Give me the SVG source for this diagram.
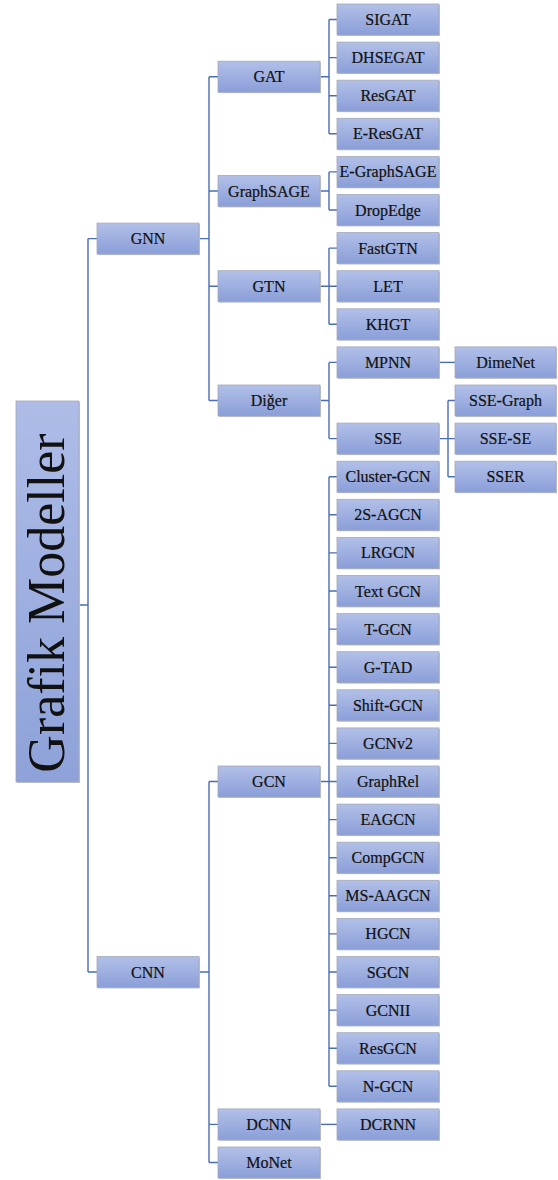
<svg xmlns="http://www.w3.org/2000/svg" width="558" height="1180" viewBox="0 0 558 1180">
<defs>
<linearGradient id="g" x1="0" y1="0" x2="0" y2="1">
<stop offset="0" stop-color="#b2c0e8"/>
<stop offset="1" stop-color="#8a9ed8"/>
</linearGradient>
<linearGradient id="gr" x1="0" y1="0" x2="0" y2="1">
<stop offset="0" stop-color="#aebce7"/>
<stop offset="1" stop-color="#8ea2d9"/>
</linearGradient>
</defs>
<style>
.b{fill:url(#g);stroke:#a3a9b8;stroke-width:0.8}
.s{fill:#c4c7cf}
text{font-family:"Liberation Serif","Times New Roman",serif}
.t{font-size:16px;fill:#111;stroke:#111;stroke-width:0.2;text-anchor:middle}
.c{fill:none;stroke:#4a6db3;stroke-width:1.4}
.rt{font-size:52px;fill:#111;text-anchor:middle}
</style>
<g id="connectors">
<path class="c" d="M79,605H88M88,238.6V972M88,238.6H97M88,972H97"/>
<path class="c" d="M199,238.6H209M209,76.7V400.5M209,76.7H218M209,191H218M209,286.2H218M209,400.5H218"/>
<path class="c" d="M320,76.7H329M329,19.5V133.8M329,19.5H337M329,57.6H337M329,95.7H337M329,133.8H337"/>
<path class="c" d="M320,191H329M329,171.9V210M329,171.9H337M329,210H337"/>
<path class="c" d="M320,286.2H329M329,248.1V324.3M329,248.1H337M329,286.2H337M329,324.3H337"/>
<path class="c" d="M320,400.5H329M329,362.4V438.6M329,362.4H337M329,438.6H337"/>
<path class="c" d="M439,362.4H455"/>
<path class="c" d="M439,438.6H448M448,400.5V476.7M448,400.5H455M448,438.6H455M448,476.7H455"/>
<path class="c" d="M199,972H209M209,781.5V1162.5M209,781.5H218M209,1124.4H218M209,1162.5H218"/>
<path class="c" d="M320,781.5H329M329,476.7V1086.3M329,476.7H337M329,514.8H337M329,552.9H337M329,591H337M329,629.1H337M329,667.2H337M329,705.3H337M329,743.4H337M329,781.5H337M329,819.6H337M329,857.7H337M329,895.8H337M329,933.9H337M329,972H337M329,1010.1H337M329,1048.2H337M329,1086.3H337"/>
<path class="c" d="M320,1124.4H337"/>
</g>
<g id="root">
<rect x="17" y="402" width="63" height="381" class="s"/>
<rect x="16" y="401" width="63" height="381" fill="url(#gr)" stroke="#a3a9b8" stroke-width="0.8"/>
<text class="rt" transform="translate(64,603) rotate(-90)">Grafik Modeller</text>
</g>
<g id="n-GNN"><rect x="98" y="224.1" width="102" height="31" class="s"/><rect x="97" y="223.1" width="102" height="31" class="b"/><text class="t" x="148" y="244.1">GNN</text></g>
<g id="n-CNN"><rect x="98" y="957.5" width="102" height="31" class="s"/><rect x="97" y="956.5" width="102" height="31" class="b"/><text class="t" x="148" y="977.5">CNN</text></g>
<g id="n-GAT"><rect x="219" y="62.2" width="102" height="31" class="s"/><rect x="218" y="61.2" width="102" height="31" class="b"/><text class="t" x="269" y="82.2">GAT</text></g>
<g id="n-GraphSAGE"><rect x="219" y="176.5" width="102" height="31" class="s"/><rect x="218" y="175.5" width="102" height="31" class="b"/><text class="t" x="269" y="196.5">GraphSAGE</text></g>
<g id="n-GTN"><rect x="219" y="271.7" width="102" height="31" class="s"/><rect x="218" y="270.7" width="102" height="31" class="b"/><text class="t" x="269" y="291.7">GTN</text></g>
<g id="n-Diger"><rect x="219" y="386" width="102" height="31" class="s"/><rect x="218" y="385" width="102" height="31" class="b"/><text class="t" x="269" y="406">Diğer</text></g>
<g id="n-GCN"><rect x="219" y="767" width="102" height="31" class="s"/><rect x="218" y="766" width="102" height="31" class="b"/><text class="t" x="269" y="787">GCN</text></g>
<g id="n-DCNN"><rect x="219" y="1109.9" width="102" height="31" class="s"/><rect x="218" y="1108.9" width="102" height="31" class="b"/><text class="t" x="269" y="1129.9">DCNN</text></g>
<g id="n-MoNet"><rect x="219" y="1148" width="102" height="31" class="s"/><rect x="218" y="1147" width="102" height="31" class="b"/><text class="t" x="269" y="1168">MoNet</text></g>
<g id="n-SIGAT"><rect x="338" y="5" width="102" height="31" class="s"/><rect x="337" y="4" width="102" height="31" class="b"/><text class="t" x="388" y="25">SIGAT</text></g>
<g id="n-DHSEGAT"><rect x="338" y="43.1" width="102" height="31" class="s"/><rect x="337" y="42.1" width="102" height="31" class="b"/><text class="t" x="388" y="63.1">DHSEGAT</text></g>
<g id="n-ResGAT"><rect x="338" y="81.2" width="102" height="31" class="s"/><rect x="337" y="80.2" width="102" height="31" class="b"/><text class="t" x="388" y="101.2">ResGAT</text></g>
<g id="n-E-ResGAT"><rect x="338" y="119.3" width="102" height="31" class="s"/><rect x="337" y="118.3" width="102" height="31" class="b"/><text class="t" x="388" y="139.3">E-ResGAT</text></g>
<g id="n-E-GraphSAGE"><rect x="338" y="157.4" width="102" height="31" class="s"/><rect x="337" y="156.4" width="102" height="31" class="b"/><text class="t" x="388" y="177.4">E-GraphSAGE</text></g>
<g id="n-DropEdge"><rect x="338" y="195.5" width="102" height="31" class="s"/><rect x="337" y="194.5" width="102" height="31" class="b"/><text class="t" x="388" y="215.5">DropEdge</text></g>
<g id="n-FastGTN"><rect x="338" y="233.6" width="102" height="31" class="s"/><rect x="337" y="232.6" width="102" height="31" class="b"/><text class="t" x="388" y="253.6">FastGTN</text></g>
<g id="n-LET"><rect x="338" y="271.7" width="102" height="31" class="s"/><rect x="337" y="270.7" width="102" height="31" class="b"/><text class="t" x="388" y="291.7">LET</text></g>
<g id="n-KHGT"><rect x="338" y="309.8" width="102" height="31" class="s"/><rect x="337" y="308.8" width="102" height="31" class="b"/><text class="t" x="388" y="329.8">KHGT</text></g>
<g id="n-MPNN"><rect x="338" y="347.9" width="102" height="31" class="s"/><rect x="337" y="346.9" width="102" height="31" class="b"/><text class="t" x="388" y="367.9">MPNN</text></g>
<g id="n-SSE"><rect x="338" y="424.1" width="102" height="31" class="s"/><rect x="337" y="423.1" width="102" height="31" class="b"/><text class="t" x="388" y="444.1">SSE</text></g>
<g id="n-DimeNet"><rect x="456" y="347.9" width="101" height="31" class="s"/><rect x="455" y="346.9" width="101" height="31" class="b"/><text class="t" x="505.5" y="367.9">DimeNet</text></g>
<g id="n-SSE-Graph"><rect x="456" y="386" width="101" height="31" class="s"/><rect x="455" y="385" width="101" height="31" class="b"/><text class="t" x="505.5" y="406">SSE-Graph</text></g>
<g id="n-SSE-SE"><rect x="456" y="424.1" width="101" height="31" class="s"/><rect x="455" y="423.1" width="101" height="31" class="b"/><text class="t" x="505.5" y="444.1">SSE-SE</text></g>
<g id="n-SSER"><rect x="456" y="462.2" width="101" height="31" class="s"/><rect x="455" y="461.2" width="101" height="31" class="b"/><text class="t" x="505.5" y="482.2">SSER</text></g>
<g id="n-Cluster-GCN"><rect x="338" y="462.2" width="102" height="31" class="s"/><rect x="337" y="461.2" width="102" height="31" class="b"/><text class="t" x="388" y="482.2">Cluster-GCN</text></g>
<g id="n-2S-AGCN"><rect x="338" y="500.3" width="102" height="31" class="s"/><rect x="337" y="499.3" width="102" height="31" class="b"/><text class="t" x="388" y="520.3">2S-AGCN</text></g>
<g id="n-LRGCN"><rect x="338" y="538.4" width="102" height="31" class="s"/><rect x="337" y="537.4" width="102" height="31" class="b"/><text class="t" x="388" y="558.4">LRGCN</text></g>
<g id="n-TextGCN"><rect x="338" y="576.5" width="102" height="31" class="s"/><rect x="337" y="575.5" width="102" height="31" class="b"/><text class="t" x="388" y="596.5">Text GCN</text></g>
<g id="n-T-GCN"><rect x="338" y="614.6" width="102" height="31" class="s"/><rect x="337" y="613.6" width="102" height="31" class="b"/><text class="t" x="388" y="634.6">T-GCN</text></g>
<g id="n-G-TAD"><rect x="338" y="652.7" width="102" height="31" class="s"/><rect x="337" y="651.7" width="102" height="31" class="b"/><text class="t" x="388" y="672.7">G-TAD</text></g>
<g id="n-Shift-GCN"><rect x="338" y="690.8" width="102" height="31" class="s"/><rect x="337" y="689.8" width="102" height="31" class="b"/><text class="t" x="388" y="710.8">Shift-GCN</text></g>
<g id="n-GCNv2"><rect x="338" y="728.9" width="102" height="31" class="s"/><rect x="337" y="727.9" width="102" height="31" class="b"/><text class="t" x="388" y="748.9">GCNv2</text></g>
<g id="n-GraphRel"><rect x="338" y="767" width="102" height="31" class="s"/><rect x="337" y="766" width="102" height="31" class="b"/><text class="t" x="388" y="787">GraphRel</text></g>
<g id="n-EAGCN"><rect x="338" y="805.1" width="102" height="31" class="s"/><rect x="337" y="804.1" width="102" height="31" class="b"/><text class="t" x="388" y="825.1">EAGCN</text></g>
<g id="n-CompGCN"><rect x="338" y="843.2" width="102" height="31" class="s"/><rect x="337" y="842.2" width="102" height="31" class="b"/><text class="t" x="388" y="863.2">CompGCN</text></g>
<g id="n-MS-AAGCN"><rect x="338" y="881.3" width="102" height="31" class="s"/><rect x="337" y="880.3" width="102" height="31" class="b"/><text class="t" x="388" y="901.3">MS-AAGCN</text></g>
<g id="n-HGCN"><rect x="338" y="919.4" width="102" height="31" class="s"/><rect x="337" y="918.4" width="102" height="31" class="b"/><text class="t" x="388" y="939.4">HGCN</text></g>
<g id="n-SGCN"><rect x="338" y="957.5" width="102" height="31" class="s"/><rect x="337" y="956.5" width="102" height="31" class="b"/><text class="t" x="388" y="977.5">SGCN</text></g>
<g id="n-GCNII"><rect x="338" y="995.6" width="102" height="31" class="s"/><rect x="337" y="994.6" width="102" height="31" class="b"/><text class="t" x="388" y="1015.6">GCNII</text></g>
<g id="n-ResGCN"><rect x="338" y="1033.7" width="102" height="31" class="s"/><rect x="337" y="1032.7" width="102" height="31" class="b"/><text class="t" x="388" y="1053.7">ResGCN</text></g>
<g id="n-N-GCN"><rect x="338" y="1071.8" width="102" height="31" class="s"/><rect x="337" y="1070.8" width="102" height="31" class="b"/><text class="t" x="388" y="1091.8">N-GCN</text></g>
<g id="n-DCRNN"><rect x="338" y="1109.9" width="102" height="31" class="s"/><rect x="337" y="1108.9" width="102" height="31" class="b"/><text class="t" x="388" y="1129.9">DCRNN</text></g>
</svg>
